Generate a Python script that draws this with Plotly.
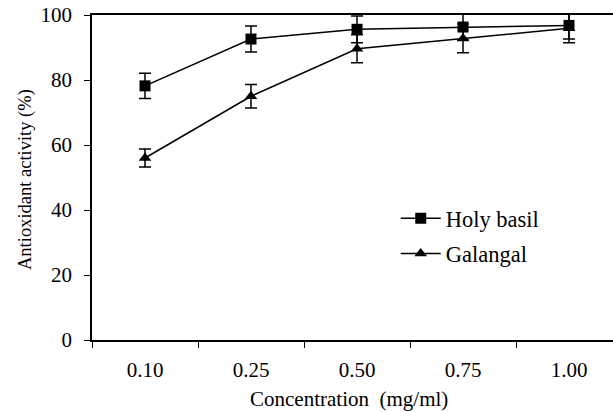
import plotly.graph_objects as go

categories = ["0.10", "0.25", "0.50", "0.75", "1.00"]
holy_basil = [78.2, 92.6, 95.6, 96.3, 96.8]
holy_basil_err = [3.9, 4.0, 4.1, 4.0, 4.2]
galangal = [56.0, 75.0, 89.6, 92.8, 95.9]
galangal_err = [2.8, 3.6, 4.3, 4.4, 4.4]
y_ticks = [0, 20, 40, 60, 80, 100]

xpos = list(range(len(categories)))
FONT = "Liberation Serif"

fig = go.Figure()
fig.add_trace(go.Scatter(
    x=xpos, y=holy_basil, name="Holy basil", mode="lines+markers", legendgroup="a",
    line=dict(color="black", width=1.5),
    marker=dict(symbol="square", size=11, color="black"),
    error_y=dict(type="data", array=holy_basil_err, color="black", thickness=1.5, width=6),
))
fig.add_trace(go.Scatter(
    x=xpos, y=galangal, name="Galangal", mode="lines+markers", legendgroup="b",
    line=dict(color="black", width=1.5),
    marker=dict(symbol="triangle-up", size=11, color="black"),
    error_y=dict(type="data", array=galangal_err, color="black", thickness=1.5, width=6),
))

fig.update_layout(
    width=613, height=412,
    margin=dict(l=92, r=0, t=15, b=72, autoexpand=False),
    paper_bgcolor="white", plot_bgcolor="white",
    font=dict(family=FONT, color="black", size=21),
    showlegend=True,
    legend=dict(x=0.583, y=0.44, xanchor="left", yanchor="top",
                font=dict(size=22.5, family=FONT, color="black"), bgcolor="rgba(0,0,0,0)",
                tracegroupgap=3, itemwidth=40),
)
fig.add_annotation(
    text="Antioxidant activity (%)", textangle=-90,
    xref="paper", yref="paper", x=(25 - 92) / 521, y=(340 - 180) / 325,
    xanchor="center", yanchor="middle", showarrow=False,
    font=dict(size=18.5, family=FONT, color="black"),
)
fig.add_annotation(
    text="Concentration  (mg/ml)",
    xref="paper", yref="paper", x=(349 - 92) / 521, y=(340 - 399) / 325,
    xanchor="center", yanchor="middle", showarrow=False,
    font=dict(size=21, family=FONT, color="black"),
)
fig.update_xaxes(
    range=[-0.5, 4.415], tickvals=xpos, ticktext=categories, ticks="",
    ticklabelstandoff=10, automargin=False,
    showline=True, linecolor="black", linewidth=1.5, mirror=True,
    showgrid=False, zeroline=False,
    minor=dict(tickvals=[-0.5, 0.5, 1.5, 2.5, 3.5], ticks="outside", ticklen=6,
               tickcolor="black", tickwidth=1.2, showgrid=False),
    tickfont=dict(size=21, family=FONT, color="black"),
)
fig.update_yaxes(
    range=[0, 100], tickvals=y_ticks, ticks="outside", ticklen=6,
    tickcolor="black", tickwidth=1.2, ticklabelstandoff=8, ticklabeloverflow="allow",
    showline=True, linecolor="black", linewidth=1.5, automargin=False,
    showgrid=False, zeroline=False,
    tickfont=dict(size=21, family=FONT, color="black"),
)

fig.write_html("out.html", config={"displayModeBar": False},
               post_script="document.body.style.margin='0';")
